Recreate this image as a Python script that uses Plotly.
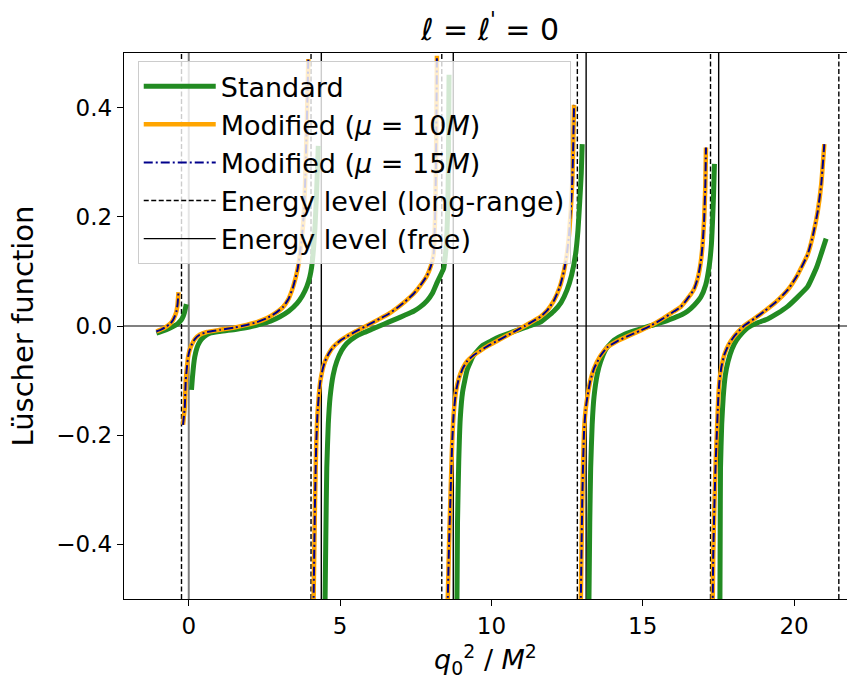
import plotly.graph_objects as go

# ---- Lüscher function, l = l' = 0, one branch per list entry ----
std_x = [
    [-1.07, -0.85, -0.63, -0.45, -0.35, -0.25, -0.19, -0.14, -0.10, -0.08],
    [0.09, 0.12, 0.16, 0.20, 0.27, 0.36, 0.50, 0.70, 1.00, 1.30, 1.58, 2.00, 2.35, 2.70, 3.01,
     3.30, 3.57, 3.75, 3.90, 4.00, 4.06, 4.12, 4.17, 4.22, 4.28],
    [4.50, 4.53, 4.56, 4.61, 4.67, 4.77, 4.89, 5.05, 5.22, 5.50, 5.77, 6.05, 6.32, 6.60, 6.88,
     7.15, 7.43, 7.65, 7.87, 8.05, 8.20, 8.32, 8.42, 8.48, 8.53, 8.56, 8.58, 8.60],
    [8.86, 8.88, 8.92, 8.97, 9.05, 9.20, 9.40, 9.70, 10.00, 10.30, 10.60, 10.90, 11.20, 11.62,
     12.06, 12.30, 12.50, 12.65, 12.78, 12.86, 12.92, 12.97, 13.00],
    [13.22, 13.25, 13.28, 13.33, 13.39, 13.50, 13.61, 13.80, 14.05, 14.40, 14.71, 15.00, 15.26,
     15.60, 16.04, 16.30, 16.48, 16.70, 16.92, 17.08, 17.20, 17.27, 17.31, 17.34, 17.37],
    [17.55, 17.56, 17.57, 17.61, 17.66, 17.73, 17.82, 17.95, 18.10, 18.30, 18.47, 18.80, 19.13,
     19.45, 19.79, 20.10, 20.45, 20.75, 21.06],
]
std_y = [
    [-0.013, -0.009, -0.004, 0.001, 0.005, 0.011, 0.017, 0.025, 0.035, 0.040],
    [-0.117, -0.095, -0.072, -0.056, -0.040, -0.029, -0.020, -0.013, -0.010, -0.008, -0.006,
     -0.002, 0.003, 0.009, 0.017, 0.027, 0.041, 0.055, 0.072, 0.090, 0.108, 0.140, 0.180, 0.240, 0.330],
    [-0.52, -0.38, -0.26, -0.18, -0.13, -0.09, -0.065, -0.045, -0.032, -0.020, -0.0125, -0.006,
     0.0005, 0.007, 0.0135, 0.020, 0.027, 0.035, 0.046, 0.060, 0.079, 0.093, 0.105, 0.130,
     0.170, 0.220, 0.300, 0.460],
    [-0.52, -0.36, -0.25, -0.17, -0.12, -0.08, -0.055, -0.036, -0.027, -0.019, -0.013, -0.007,
     -0.001, 0.007, 0.027, 0.043, 0.066, 0.093, 0.131, 0.175, 0.229, 0.280, 0.333],
    [-0.52, -0.36, -0.26, -0.18, -0.13, -0.088, -0.065, -0.041, -0.026, -0.015, -0.009, -0.004,
     0.0005, 0.006, 0.015, 0.021, 0.027, 0.038, 0.053, 0.075, 0.111, 0.150, 0.196, 0.240, 0.297],
    [-0.52, -0.38, -0.26, -0.18, -0.13, -0.09, -0.065, -0.042, -0.026, -0.012, -0.003, 0.006,
     0.013, 0.023, 0.036, 0.052, 0.072, 0.108, 0.160],
]

mod10_x = [
    [-1.07, -0.90, -0.74, -0.60, -0.52, -0.46, -0.41, -0.37, -0.34],
    [-0.19, -0.16, -0.13, -0.10, -0.06, -0.02, 0.03, 0.09, 0.20, 0.36, 0.60, 1.03, 1.50, 1.91,
     2.25, 2.57, 2.85, 3.12, 3.30, 3.45, 3.60, 3.73, 3.82, 3.90, 3.95],
    [4.12, 4.15, 4.17, 4.21, 4.25, 4.30, 4.34, 4.42, 4.50, 4.63, 4.78, 5.00, 5.22, 5.55, 5.88,
     6.10, 6.32, 6.60, 6.88, 7.15, 7.43, 7.65, 7.87, 8.00, 8.09, 8.14, 8.17, 8.20],
    [8.55, 8.60, 8.64, 8.70, 8.75, 8.83, 8.92, 9.05, 9.19, 9.40, 9.64, 9.90, 10.20, 10.50,
     10.80, 11.10, 11.35, 11.62, 11.85, 12.06, 12.25, 12.39, 12.49, 12.56, 12.62, 12.67, 12.70, 12.73],
    [12.95, 12.98, 13.00, 13.03, 13.06, 13.11, 13.17, 13.27, 13.39, 13.60, 13.83, 14.15, 14.49,
     14.90, 15.26, 15.65, 16.04, 16.26, 16.45, 16.59, 16.70, 16.82, 16.92, 16.98, 17.03, 17.07, 17.09],
    [17.31, 17.33, 17.37, 17.41, 17.45, 17.49, 17.53, 17.60, 17.70, 17.85, 18.02, 18.18, 18.35,
     18.70, 19.02, 19.40, 19.79, 20.10, 20.45, 20.62, 20.78, 20.90, 21.00],
]
mod10_y = [
    [-0.010, -0.006, -0.001, 0.005, 0.011, 0.018, 0.026, 0.040, 0.062],
    [-0.181, -0.165, -0.147, -0.099, -0.075, -0.056, -0.044, -0.035, -0.024, -0.016, -0.011,
     -0.007, -0.003, 0.002, 0.007, 0.014, 0.023, 0.035, 0.050, 0.072, 0.105, 0.157, 0.220, 0.370, 0.489],
    [-0.52, -0.40, -0.326, -0.22, -0.163, -0.125, -0.104, -0.080, -0.065, -0.050, -0.038, -0.027,
     -0.019, -0.009, 0.0006, 0.007, 0.0135, 0.022, 0.033, 0.045, 0.059, 0.074, 0.092, 0.110,
     0.131, 0.200, 0.300, 0.495],
    [-0.52, -0.40, -0.326, -0.22, -0.163, -0.120, -0.097, -0.078, -0.065, -0.054, -0.045, -0.036,
     -0.027, -0.018, -0.009, 0.000, 0.008, 0.017, 0.029, 0.046, 0.070, 0.099, 0.130, 0.164,
     0.210, 0.261, 0.320, 0.405],
    [-0.52, -0.40, -0.326, -0.25, -0.195, -0.155, -0.130, -0.100, -0.078, -0.055, -0.039, -0.028,
     -0.019, -0.009, 0.0005, 0.013, 0.027, 0.035, 0.048, 0.058, 0.068, 0.088, 0.118, 0.150,
     0.196, 0.260, 0.327],
    [-0.52, -0.42, -0.326, -0.25, -0.195, -0.140, -0.104, -0.075, -0.052, -0.033, -0.019, -0.009,
     0.0005, 0.014, 0.027, 0.044, 0.066, 0.092, 0.131, 0.165, 0.209, 0.260, 0.333],
]

# mu = 15M coincides with mu = 10M at this resolution
mod15_x = [list(b) for b in mod10_x]
mod15_y = [list(b) for b in mod10_y]

levels_long_range = [-0.24, 4.04, 8.36, 12.84, 17.24, 21.48]
levels_free = [4.38, 8.74, 13.13, 17.51]

x_ticks = [0, 5, 10, 15, 20]
y_ticks = [-0.4, -0.2, 0.0, 0.2, 0.4]
y_ticktext = ["−0.4", "−0.2", "0.0", "0.2", "0.4"]
X_RANGE = [-2.14, 21.75]
Y_RANGE = [-0.5, 0.5]

FONT = "DejaVu Sans"


def join_branches(xs, ys):
    """Concatenate branches with gaps so the poles are not bridged."""
    out_x, out_y = [], []
    for bx, by in zip(xs, ys):
        out_x += bx + [None]
        out_y += by + [None]
    return out_x, out_y


def vlines(xs):
    out_x, out_y = [], []
    for v in xs:
        out_x += [v, v, None]
        out_y += [Y_RANGE[0], Y_RANGE[1], None]
    return out_x, out_y


fig = go.Figure()

lx, ly = vlines(levels_long_range)
fig.add_trace(go.Scatter(x=lx, y=ly, mode="lines", name="Energy level (long-range)",
                         legendgroup="g4", legendrank=4,
                         line=dict(color="black", width=1.4, dash="5px,2.5px")))
fx, fy = vlines(levels_free)
fig.add_trace(go.Scatter(x=fx, y=fy, mode="lines", name="Energy level (free)",
                         legendgroup="g5", legendrank=5,
                         line=dict(color="black", width=1.4)))

sx, sy = join_branches(std_x, std_y)
fig.add_trace(go.Scatter(x=sx, y=sy, mode="lines", name="Standard",
                         legendgroup="g1", legendrank=1,
                         line=dict(color="#228b22", width=5, shape="spline", smoothing=0.4)))
mx, my = join_branches(mod10_x, mod10_y)
fig.add_trace(go.Scatter(x=mx, y=my, mode="lines", name="Modified (<i>μ</i> = 10<i>M</i>)",
                         legendgroup="g2", legendrank=2,
                         line=dict(color="orange", width=4.5, shape="spline", smoothing=0.4)))
nx, ny = join_branches(mod15_x, mod15_y)
fig.add_trace(go.Scatter(x=nx, y=ny, mode="lines", name="Modified (<i>μ</i> = 15<i>M</i>)",
                         legendgroup="g3", legendrank=3,
                         line=dict(color="#00008b", width=2, dash="9px,3px,2px,3px",
                                   shape="spline", smoothing=0.4)))

# gray reference lines at the origin
fig.add_shape(type="line", xref="x", yref="paper", x0=0, x1=0, y0=0, y1=1,
              line=dict(color="gray", width=2), layer="below")
fig.add_shape(type="line", xref="paper", yref="y", x0=0, x1=1, y0=0, y1=0,
              line=dict(color="gray", width=2), layer="below")

axis_common = dict(showline=True, linecolor="black", linewidth=1.4, ticks="outside",
                   ticklen=6, tickwidth=1.4, tickcolor="black", showgrid=False,
                   zeroline=False, tickfont=dict(family=FONT, size=23, color="black"))

fig.update_layout(
    width=847, height=679,
    margin=dict(l=124, r=0, t=53, b=80),
    plot_bgcolor="white", paper_bgcolor="white",
    font=dict(family=FONT, color="black"),
    xaxis=dict(range=X_RANGE, tickvals=x_ticks, mirror=True,
               title=dict(text="<i>q</i><sub>0</sub><sup>2</sup> / <i>M</i><sup>2</sup>",
                          font=dict(family=FONT, size=27), standoff=12),
               **axis_common),
    yaxis=dict(range=Y_RANGE, tickvals=y_ticks, ticktext=y_ticktext,
               title=dict(text="Lüscher function", font=dict(family=FONT, size=29), standoff=14),
               **axis_common),
    legend=dict(x=0.019, y=0.985, xanchor="left", yanchor="top",
                bgcolor="rgba(255,255,255,0.8)", bordercolor="#cccccc", borderwidth=1,
                font=dict(family=FONT, size=27, color="black"), itemwidth=72,
                tracegroupgap=4, traceorder="normal"),
    showlegend=True,
)

fig.add_annotation(text="<i>ℓ</i> = <i>ℓ</i><sup>'</sup> = 0", xref="paper", yref="paper",
                   x=0.506, y=1.0, yshift=26, xanchor="center", yanchor="middle",
                   showarrow=False, font=dict(family=FONT, size=30, color="black"))

fig.write_html("out.html")
